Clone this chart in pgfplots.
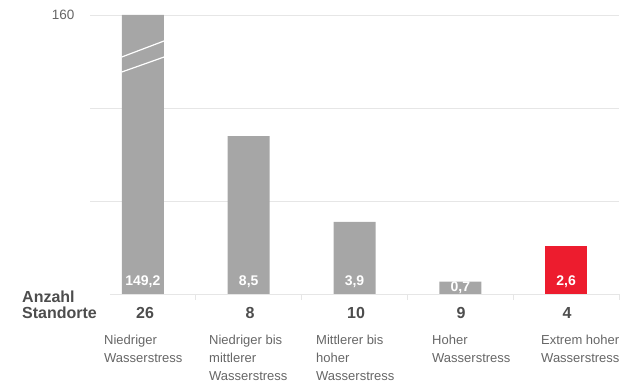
\documentclass[border=0pt]{standalone}
\usepackage{fontspec}
\setmainfont{Liberation Sans}
\usepackage{pgfplots}
\pgfplotsset{compat=1.18}
\definecolor{barg}{HTML}{A6A6A6}
\definecolor{barr}{HTML}{ED1C2E}
\definecolor{gridc}{HTML}{E6E6E6}
\definecolor{txt}{HTML}{666666}
\definecolor{dark}{HTML}{4D4D4D}
\begin{document}
\begin{tikzpicture}[x=1pt,y=1pt]
\useasboundingbox (0,0) rectangle (636,382);
\begin{axis}[
  at={(90pt,88pt)}, anchor=south west,
  scale only axis, width=529pt, height=279pt,
  xmin=-0.5, xmax=4.5, ymin=0, ymax=160,
  axis line style={draw=none},
  xtick=\empty,
  ytick={53.333,106.667,160}, yticklabels={,,160},
  ymajorgrids, grid style={gridc, line width=0.8pt},
  major tick length=0pt,
  /pgf/number format/assume math mode=true,
  yticklabel style={txt, font=\fontsize{13.5}{15}\selectfont, xshift=-12pt},
  ybar, bar width=42pt, clip=false,
]
\addplot[fill=barg, draw=none, bar shift=0pt] coordinates {(0,160) (1,90.6) (2,41.3) (3,7.1)};
\addplot[fill=barr, draw=none, bar shift=0pt] coordinates {(4,27.5)};
\draw[gridc, line width=0.8pt] (axis cs:-0.31,0) -- (axis cs:4.5,0);
\pgfplotsinvokeforeach{0.5,1.5,2.5,3.5,4.5}{
  \draw[gridc, line width=0.8pt] (axis cs:#1,0) -- ([yshift=-6pt]axis cs:#1,0);
}
\draw[white, line width=1.2pt] (axis cs:-0.2,135.9) -- (axis cs:0.2,145.1);
\draw[white, line width=1.2pt] (axis cs:-0.2,127.3) -- (axis cs:0.2,135.9);
\tikzset{vl/.style={white, font=\bfseries\fontsize{14}{15}\selectfont, inner sep=0pt}}
\node[vl] at (axis cs:0,6.8) {149,2};
\node[vl] at (axis cs:1,6.8) {8,5};
\node[vl] at (axis cs:2,6.8) {3,9};
\node[vl] at (axis cs:3,3.4) {0,7};
\node[vl] at (axis cs:4,6.8) {2,6};
\end{axis}
\tikzset{bl/.style={dark, font=\bfseries\fontsize{16}{17}\selectfont, inner sep=0pt},
         cl/.style={txt, font=\fontsize{13}{18}\selectfont, inner sep=0pt, anchor=north west, align=left}}
\node[bl, anchor=west] at (22,85) {Anzahl};
\node[bl, anchor=west] at (22,69) {Standorte};
\node[bl] at (145,69) {26};
\node[bl] at (250,69) {8};
\node[bl] at (356,69) {10};
\node[bl] at (461,69) {9};
\node[bl] at (567,69) {4};
\node[cl] at (104,47) {Niedriger\\Wasserstress};
\node[cl] at (209,47) {Niedriger bis\\mittlerer\\Wasserstress};
\node[cl] at (316,47) {Mittlerer bis\\hoher\\Wasserstress};
\node[cl] at (432,47) {Hoher\\Wasserstress};
\node[cl] at (541,47) {Extrem hoher\\Wasserstress};
\end{tikzpicture}
\end{document}
